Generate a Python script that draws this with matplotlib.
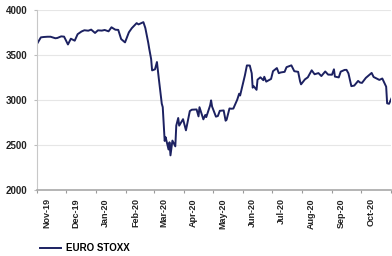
import matplotlib
matplotlib.use("Agg")
import matplotlib.pyplot as plt
import matplotlib.dates as mdates
import pandas as pd

# EURO STOXX closes
dates = [
    "2019-11-01", "2019-11-05", "2019-11-08", "2019-11-12", "2019-11-15", "2019-11-20",
    "2019-11-22", "2019-11-26", "2019-11-29", "2019-12-03", "2019-12-06", "2019-12-10",
    "2019-12-13", "2019-12-17", "2019-12-20", "2019-12-24", "2019-12-27", "2019-12-31",
    "2020-01-03", "2020-01-07", "2020-01-10", "2020-01-14", "2020-01-17", "2020-01-21",
    "2020-01-24", "2020-01-27", "2020-01-31", "2020-02-04", "2020-02-07", "2020-02-12",
    "2020-02-14", "2020-02-19", "2020-02-21", "2020-02-24", "2020-02-25", "2020-02-27",
    "2020-02-28", "2020-03-02", "2020-03-04", "2020-03-06", "2020-03-09", "2020-03-10",
    "2020-03-12", "2020-03-13", "2020-03-16", "2020-03-17", "2020-03-18", "2020-03-19",
    "2020-03-20", "2020-03-23", "2020-03-24", "2020-03-26", "2020-03-27", "2020-03-31",
    "2020-04-03", "2020-04-07", "2020-04-09", "2020-04-14", "2020-04-16", "2020-04-17",
    "2020-04-21", "2020-04-23", "2020-04-24", "2020-04-28", "2020-04-29", "2020-04-30",
    "2020-05-04", "2020-05-06", "2020-05-08", "2020-05-12", "2020-05-14", "2020-05-15",
    "2020-05-18", "2020-05-20", "2020-05-22", "2020-05-26", "2020-05-28", "2020-05-29",
    "2020-06-03", "2020-06-05", "2020-06-08", "2020-06-10", "2020-06-11", "2020-06-12",
    "2020-06-15", "2020-06-16", "2020-06-19", "2020-06-22", "2020-06-23", "2020-06-25",
    "2020-06-30", "2020-07-02", "2020-07-06", "2020-07-08", "2020-07-10", "2020-07-14",
    "2020-07-16", "2020-07-21", "2020-07-24", "2020-07-28", "2020-07-30", "2020-07-31",
    "2020-08-04", "2020-08-07", "2020-08-11", "2020-08-14", "2020-08-18", "2020-08-21",
    "2020-08-25", "2020-08-28", "2020-09-01", "2020-09-03", "2020-09-04", "2020-09-08",
    "2020-09-10", "2020-09-14", "2020-09-16", "2020-09-18", "2020-09-21", "2020-09-24",
    "2020-09-28", "2020-09-30", "2020-10-02", "2020-10-06", "2020-10-09", "2020-10-12",
    "2020-10-14", "2020-10-16", "2020-10-20", "2020-10-23", "2020-10-26", "2020-10-27",
    "2020-10-28", "2020-10-29", "2020-10-30", "2020-11-02",
]
values = [
    3623, 3696, 3700, 3703, 3703, 3686,
    3689, 3707, 3704, 3617, 3681, 3659,
    3731, 3761, 3775, 3770, 3782, 3745,
    3774, 3771, 3778, 3763, 3808, 3781,
    3779, 3677, 3640, 3752, 3798, 3854,
    3840, 3865, 3800, 3637, 3572, 3455,
    3329, 3341, 3422, 3232, 2959, 2921,
    2545, 2586, 2450, 2530, 2385, 2464,
    2549, 2485, 2716, 2800, 2715, 2787,
    2663, 2877, 2892, 2895, 2818, 2920,
    2785, 2834, 2810, 2940, 2996, 2928,
    2815, 2822, 2880, 2884, 2770, 2780,
    2906, 2903, 2905, 3003, 3070, 3050,
    3276, 3384, 3383, 3297, 3137, 3154,
    3113, 3226, 3252, 3220, 3258, 3204,
    3234, 3320, 3355, 3298, 3306, 3313,
    3365, 3385, 3320, 3313, 3207, 3174,
    3229, 3252, 3330, 3286, 3299, 3266,
    3317, 3282, 3281, 3341, 3260, 3251,
    3315, 3334, 3335, 3296, 3154, 3160,
    3212, 3194, 3190, 3246, 3273, 3301,
    3256, 3245, 3223, 3239, 3171, 3148,
    2963, 2960, 2958, 3030,
]
series_name = "EURO STOXX"
month_labels = ["Nov-19", "Dec-19", "Jan-20", "Feb-20", "Mar-20", "Apr-20",
                "May-20", "Jun-20", "Jul-20", "Aug-20", "Sep-20", "Oct-20"]
y_ticks = [2000, 2500, 3000, 3500, 4000]

plt.rcParams["font.family"] = ["Liberation Sans", "DejaVu Sans"]

x = pd.to_datetime(dates)

fig = plt.figure(figsize=(3.92, 2.56), dpi=100)
ax = fig.add_axes([37 / 392, 1 - 190 / 256, 354 / 392, 180 / 256])

line, = ax.plot(x, values, color="#1c2161", lw=1.4, label=series_name)

ax.set_ylim(2000, 4000)
ax.set_yticks(y_ticks)
ax.set_yticklabels([str(v) for v in y_ticks], fontsize=7, fontweight="bold", color="#222222")
ax.set_xlim(pd.Timestamp("2019-11-01"), pd.Timestamp("2020-11-01"))

# ticks at month starts, labels a bit into the month (like the original)
month_starts = pd.date_range("2019-11-01", "2020-11-01", freq="MS")
ax.set_xticks(month_starts)
ax.set_xticklabels([])
ax.set_xticks(month_starts[:-1] + pd.Timedelta(days=10), minor=True)
ax.set_xticklabels(month_labels, minor=True, rotation=90, fontsize=6.5,
                   fontweight="bold", color="#222222", va="top", ha="center")
ax.tick_params(axis="x", which="minor", length=0, pad=6)
ax.tick_params(axis="x", which="major", length=2.5, color="#9a9a9a", direction="out")
ax.tick_params(axis="y", length=2, color="#bdbdbd", pad=5)

ax.grid(axis="y", color="#e6e6e6", lw=0.8)
ax.set_axisbelow(True)
for s in ["top", "right"]:
    ax.spines[s].set_visible(False)
ax.spines["left"].set_color("#c8c8c8")
ax.spines["bottom"].set_color("#a8a8a8")
ax.spines["bottom"].set_linewidth(1.2)

fig.legend(handles=[line], loc="center left", bbox_to_anchor=(36 / 392, 1 - 248 / 256),
           frameon=False, prop={"size": 7, "weight": "bold"}, handlelength=2.2,
           handletextpad=0.5, borderaxespad=0)

fig.savefig("out.png", dpi=100)
